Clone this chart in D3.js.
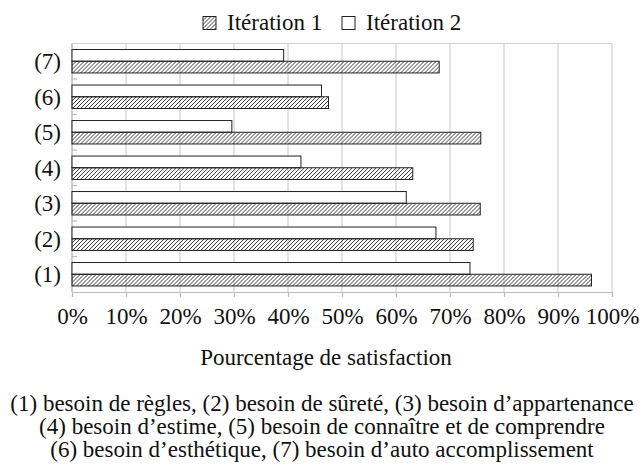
<!DOCTYPE html>
<html>
<head>
<meta charset="utf-8">
<script src="https://cdn.jsdelivr.net/npm/d3@7"></script>
<style>
  body { margin: 0; background: #fff; }
</style>
</head>
<body>
<svg id="chart" width="642" height="471"></svg>
<script>
// categories, bottom to top in the picture: (1) ... (7)
const categories = ["(1)", "(2)", "(3)", "(4)", "(5)", "(6)", "(7)"];
const iteration1 = [96.2, 74.3, 75.6, 63.1, 75.7, 47.5, 68.0];
const iteration2 = [73.7, 67.4, 61.9, 42.4, 29.6, 46.2, 39.2];
const seriesNames = ["Itération 1", "Itération 2"];
const xTicks = [0, 10, 20, 30, 40, 50, 60, 70, 80, 90, 100];
const xTitle = "Pourcentage de satisfaction";
const captionLines = [
	"(1) besoin de règles, (2) besoin de sûreté, (3) besoin d’appartenance",
	"(4) besoin d’estime, (5) besoin de connaître et de comprendre",
	"(6) besoin d’esthétique, (7) besoin d’auto accomplissement"
];

const svg = d3.select("#chart");
const margin = { left: 72, right: 30, top: 43.5, bottom: 179 };
const width = 642 - margin.left - margin.right,
	height = 471 - margin.top - margin.bottom;
const fontSize = 23;

// every text of the chart goes through here
function styleText(sel) {
	return sel.style("font-family", "\"Liberation Serif\"").style("font-size", fontSize + "px").style("fill", "#111");
}

//-----------------------------------
// hatch pattern for Itération 1
const defs = svg.append("defs");
defs.append("pattern")
	.attr("id", "hatch")
	.attr("patternUnits", "userSpaceOnUse")
	.attr("width", 4).attr("height", 4)
	.append("path")
	.attr("d", "M-1,1 l2,-2 M0,4 l4,-4 M3,5 l2,-2")
	.attr("stroke", "#222")
	.attr("stroke-width", 0.9);

const g = svg.append("g").attr("transform", `translate(${margin.left},${margin.top})`);

const x = d3.scaleLinear().domain([0, 100]).range([0, width]);
const y = d3.scaleBand().domain(categories.slice().reverse()).range([0, height])
	.paddingInner(0.34).paddingOuter(0.17);
const yInner = d3.scaleBand().domain(["it2", "it1"]).range([0, y.bandwidth()]);

//-----------------------------------
// grid and frame
g.append("g").selectAll("line").data(xTicks).join("line")
	.attr("x1", d => x(d)).attr("x2", d => x(d))
	.attr("y1", 0).attr("y2", height)
	.attr("stroke", "#d0d0d0").attr("stroke-width", 1.2);
g.append("line").attr("x1", 0).attr("x2", width).attr("y1", 0).attr("y2", 0)
	.attr("stroke", "#d0d0d0").attr("stroke-width", 1.2);

// bottom axis
const xAxis = g.append("g").attr("transform", `translate(0,${height})`)
	.call(d3.axisBottom(x).tickValues(xTicks).tickFormat(d => d + "%").tickSize(5).tickPadding(11));
xAxis.attr("font-family", null).attr("font-size", null);
xAxis.select(".domain").attr("stroke", "#bbb").attr("stroke-width", 1.2);
xAxis.selectAll(".tick line").attr("stroke", "#bbb").attr("stroke-width", 1.2);
styleText(xAxis.selectAll("text"));

// left axis with small inner ticks at band limits
const step = y.step();
const boundaries = d3.range(categories.length + 1).map(i => i * step);
g.append("line").attr("x1", 0).attr("x2", 0).attr("y1", 0).attr("y2", height)
	.attr("stroke", "#bbb").attr("stroke-width", 1.2);
g.append("g").selectAll("line").data(boundaries.slice(1, -1)).join("line")
	.attr("x1", 0).attr("x2", 5).attr("y1", d => d).attr("y2", d => d)
	.attr("stroke", "#bbb").attr("stroke-width", 1.2);
styleText(g.append("g").selectAll("text").data(categories).join("text")
	.attr("x", -11).attr("y", d => y(d) + y.bandwidth() / 2)
	.attr("dy", "0.35em").attr("text-anchor", "end")
	.text(d => d));

//-----------------------------------
// bars
const rows = categories.map((c, i) => ({ cat: c, it1: iteration1[i], it2: iteration2[i] }));
const grp = g.append("g").selectAll("g").data(rows).join("g")
	.attr("transform", d => `translate(0,${y(d.cat)})`);
grp.append("rect")
	.attr("x", 0).attr("y", yInner("it2"))
	.attr("width", d => x(d.it2)).attr("height", yInner.bandwidth())
	.attr("fill", "#fff").attr("stroke", "#222").attr("stroke-width", 1);
grp.append("rect")
	.attr("x", 0).attr("y", yInner("it1"))
	.attr("width", d => x(d.it1)).attr("height", yInner.bandwidth())
	.attr("fill", "url(#hatch)").attr("stroke", "#222").attr("stroke-width", 1);

//-----------------------------------
// legend
const legend = svg.append("g").attr("transform", "translate(203,16.5)");
legend.append("rect").attr("x", 0).attr("y", 0).attr("width", 13).attr("height", 13)
	.attr("fill", "url(#hatch)").attr("stroke", "#222");
styleText(legend.append("text").attr("x", 24).attr("y", 13.5).text(seriesNames[0]));
legend.append("rect").attr("x", 139).attr("y", 0).attr("width", 13).attr("height", 13)
	.attr("fill", "#fff").attr("stroke", "#222");
styleText(legend.append("text").attr("x", 163).attr("y", 13.5).text(seriesNames[1]));

// axis title
styleText(svg.append("text").attr("x", 326).attr("y", 365).attr("text-anchor", "middle")
	.text(xTitle));

// caption under the chart
styleText(svg.append("g").selectAll("text").data(captionLines).join("text")
	.attr("x", 322).attr("y", (d, i) => 411 + i * 23)
	.attr("text-anchor", "middle")
	.text(d => d));
</script>
</body>
</html>
